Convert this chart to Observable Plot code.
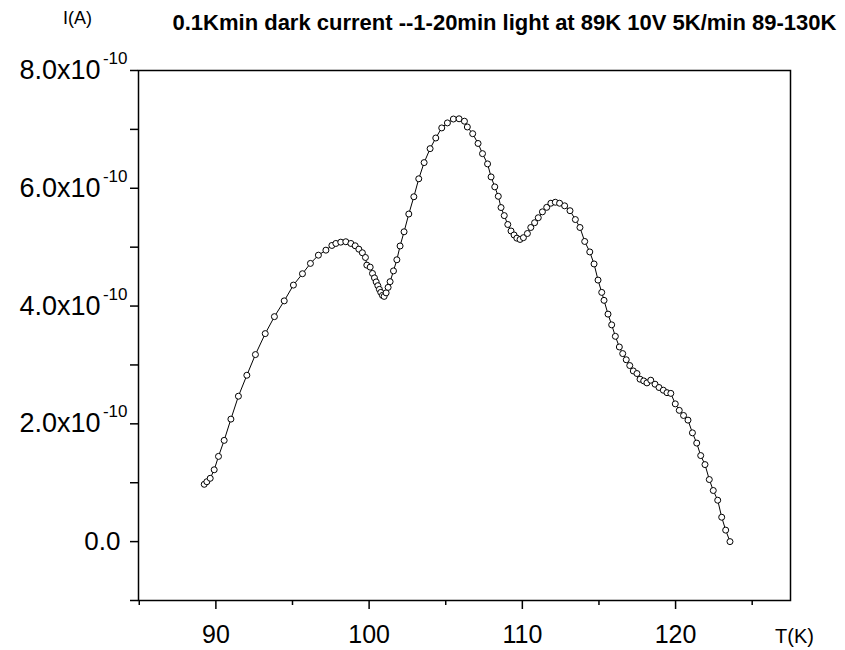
<!DOCTYPE html>
<html><head><meta charset="utf-8">
<script src="https://cdn.jsdelivr.net/npm/d3@7"></script>
<script src="https://cdn.jsdelivr.net/npm/@observablehq/plot@0.6"></script>
<style>
body{margin:0;background:#fff;}
#chart{width:845px;height:650px;}
</style></head><body><div id="chart"></div>
<script>
// Temperature T (K)
const temperature = [89.24,89.41,89.63,89.89,90.17,90.54,90.98,91.47,92.02,92.58,93.22,93.82,94.46,95.06,95.65,96.17,96.69,97.18,97.57,97.83,98.15,98.48,98.81,99.09,99.33,99.56,99.76,99.85,100.07,100.22,100.35,100.46,100.57,100.67,100.76,100.87,100.98,101.11,101.24,101.37,101.59,101.81,102.02,102.28,102.59,102.92,103.24,103.59,103.98,104.35,104.74,105.11,105.50,105.87,106.22,106.41,106.76,107.11,107.40,107.73,107.96,108.20,108.43,108.61,108.82,109.05,109.26,109.46,109.64,109.85,110.07,110.33,110.55,110.80,111.04,111.31,111.59,111.86,112.15,112.43,112.76,113.11,113.46,113.76,114.07,114.40,114.68,114.94,115.18,115.33,115.59,115.83,116.07,116.33,116.55,116.78,117.01,117.24,117.48,117.68,117.92,118.13,118.38,118.66,118.92,119.20,119.44,119.69,119.98,120.24,120.52,120.81,121.10,121.38,121.64,121.92,122.20,122.46,122.75,123.01,123.27,123.55];
// Current I, in units of 1e-10 A
const current = [0.973,1.017,1.075,1.220,1.447,1.719,2.080,2.469,2.825,3.176,3.532,3.820,4.088,4.356,4.549,4.724,4.864,4.949,5.029,5.063,5.085,5.092,5.063,5.024,4.966,4.905,4.825,4.695,4.661,4.554,4.478,4.410,4.346,4.283,4.232,4.181,4.164,4.224,4.317,4.414,4.597,4.786,5.020,5.261,5.563,5.856,6.161,6.436,6.673,6.854,7.025,7.110,7.176,7.180,7.139,7.041,6.927,6.761,6.588,6.414,6.193,6.024,5.864,5.673,5.536,5.385,5.275,5.207,5.153,5.131,5.161,5.232,5.334,5.415,5.500,5.600,5.676,5.746,5.763,5.746,5.702,5.619,5.469,5.334,5.097,4.919,4.715,4.441,4.232,4.097,3.863,3.681,3.486,3.305,3.193,3.088,2.990,2.898,2.854,2.758,2.729,2.695,2.741,2.673,2.617,2.571,2.529,2.517,2.339,2.229,2.142,2.063,1.847,1.673,1.461,1.308,1.054,0.868,0.703,0.414,0.195,0.0];

const xMajorTicks = [90, 100, 110, 120];
const xMinorTicks = [85, 95, 105, 115, 125];
const yMajorTicks = [2, 4, 6, 8];
const yZeroTick = [0];
const yMinorTicks = [-1, 1, 3, 5, 7];
const yTickBase = ["2.0x10", "4.0x10", "6.0x10", "8.0x10"];
const yTickExponent = "-10";
const yZeroLabel = "0.0";
const titleText = "0.1Kmin dark current --1-20min light at 89K 10V 5K/min 89-130K";
const yAxisLabel = "I(A)";
const xAxisLabel = "T(K)";

const data = temperature.map((t, k) => ({t, i: current[k]}));
const font = "'Liberation Sans', Arial, sans-serif";

const chart = Plot.plot({
  width: 845,
  height: 650,
  marginLeft: 138,
  marginRight: 55,
  marginTop: 70,
  marginBottom: 50,
  style: {fontFamily: font, background: "#fff", color: "#000", overflow: "visible"},
  x: {domain: [84.95, 127.5], label: null},
  y: {domain: [-1, 8], label: null},
  marks: [
    Plot.axisX(xMinorTicks, {tickSize: 5, tickFormat: () => "", strokeWidth: 1.5, label: null}),
    Plot.axisX(xMajorTicks, {tickSize: 9, tickPadding: 16, fontSize: 25, tickFormat: d => String(d), strokeWidth: 1.5, label: null}),
    Plot.axisY(yMinorTicks, {tickSize: 8, tickFormat: () => "", strokeWidth: 1.5, label: null}),
    Plot.axisY(yZeroTick, {tickSize: 8, tickPadding: 10, fontSize: 26, tickFormat: () => yZeroLabel, strokeWidth: 1.5, label: null}),
    Plot.axisY(yMajorTicks, {tickSize: 8, tickPadding: 30, fontSize: 27, tickFormat: d => yTickBase[yMajorTicks.indexOf(d)], strokeWidth: 1.5, label: null}),
    Plot.axisY(yMajorTicks, {tickSize: 0, tickPadding: 11, fontSize: 17, dy: -12, tickFormat: () => yTickExponent, label: null}),
    Plot.frame({stroke: "#000", strokeWidth: 1.5}),
    Plot.line(data, {x: "t", y: "i", stroke: "#000", strokeWidth: 1}),
    Plot.dot(data, {x: "t", y: "i", r: 3, stroke: "#000", fill: "#fff", strokeWidth: 1}),
    Plot.text([titleText], {frameAnchor: "top-left", text: d => d, dx: 34, dy: -48, textAnchor: "start", lineAnchor: "middle", fontSize: 22, fontWeight: "bold"}),
    Plot.text([yAxisLabel], {frameAnchor: "top-left", text: d => d, dx: -61, dy: -52, textAnchor: "middle", lineAnchor: "middle", fontSize: 18}),
    Plot.text([xAxisLabel], {frameAnchor: "bottom-right", text: d => d, dx: 4, dy: 36, textAnchor: "middle", lineAnchor: "middle", fontSize: 20})
  ]
});
document.getElementById("chart").appendChild(chart);
</script>
</body></html>
